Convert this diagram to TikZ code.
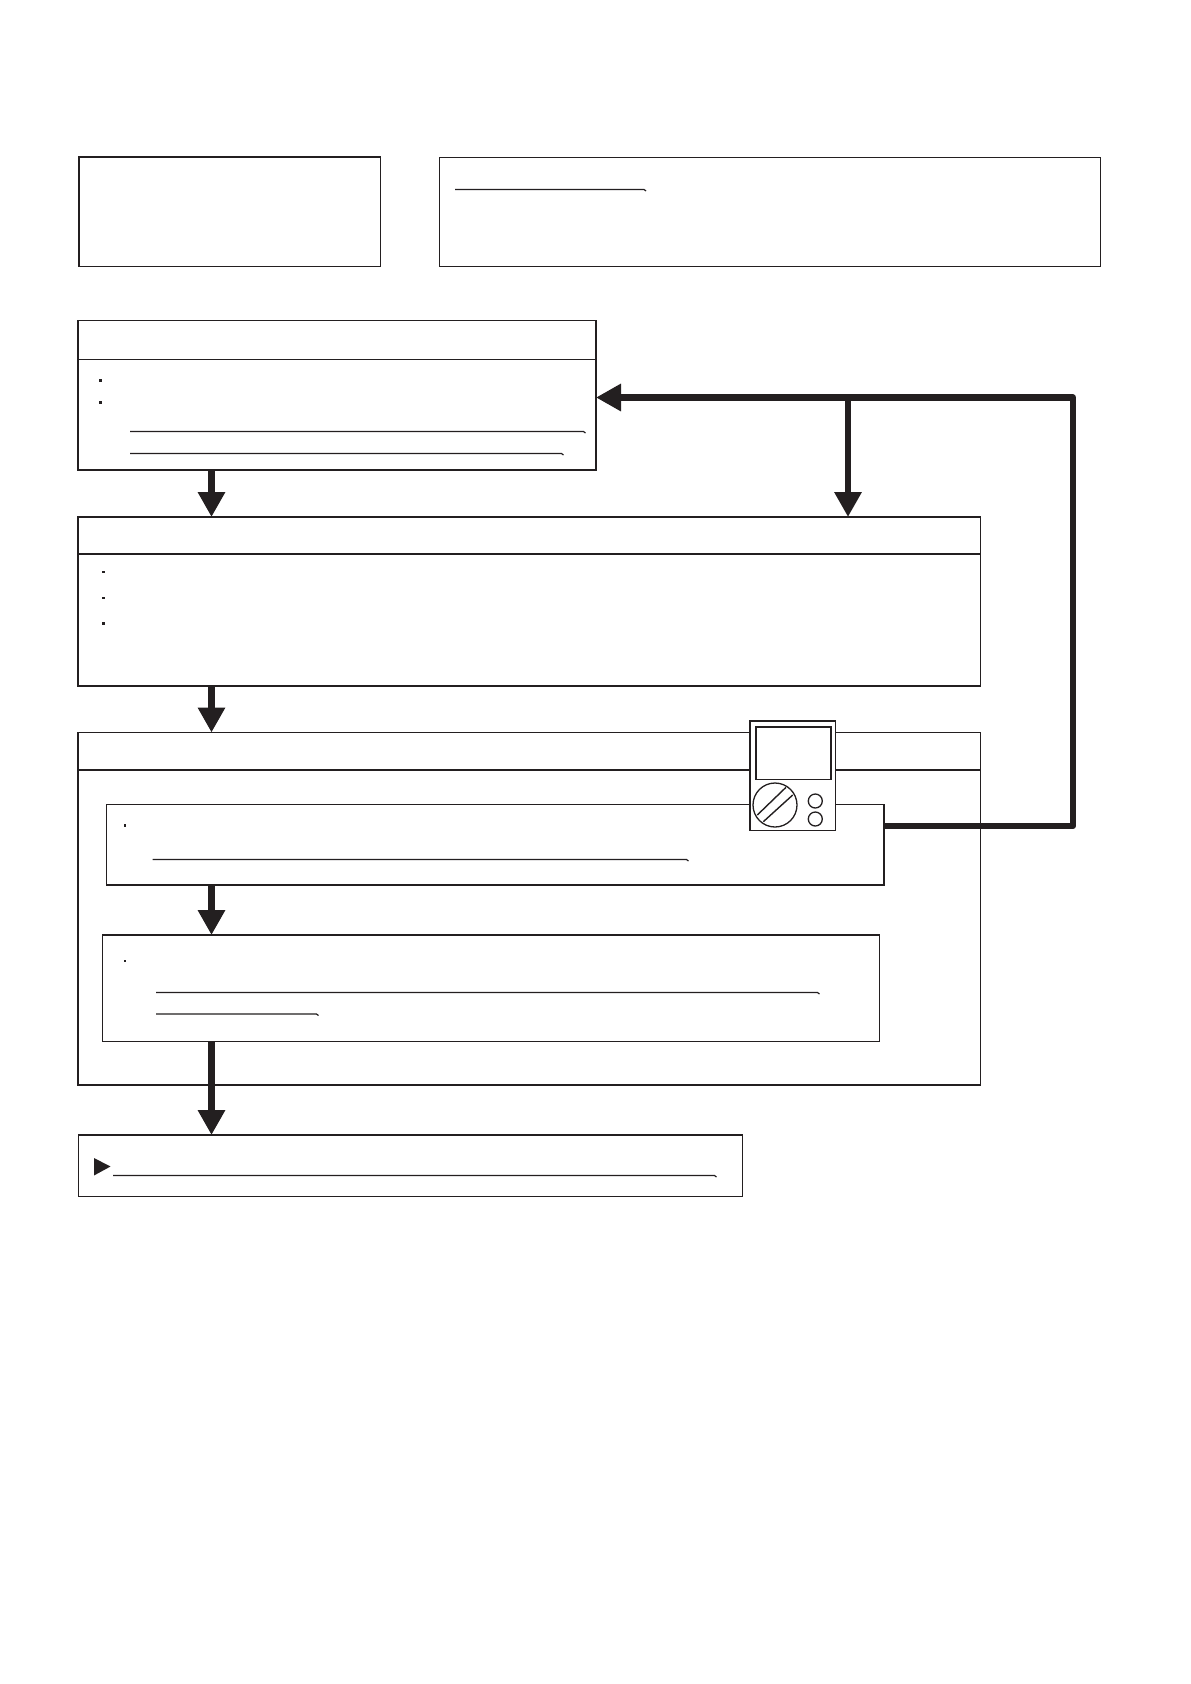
\documentclass[tikz,border=0pt]{standalone}
\usepackage{xcolor}
\usetikzlibrary{arrows.meta}
\definecolor{ink}{HTML}{231F20}
\tikzset{
  panel/.style={draw=ink, line width=1.2pt, fill=white, rectangle, inner sep=0pt, outer sep=0pt, anchor=north west},
  rule/.style={draw=ink, line width=1.1pt},
  flow/.style={draw=ink, line width=6.5pt, -{Triangle[width=26pt,length=25pt,fill=ink]}, shorten >=0pt},
  bus/.style={draw=ink, line width=6.2pt, line join=round},
  ul/.style={draw=ink, line width=1.2pt, line join=round},
  tick/.style={fill=ink, rectangle, inner sep=0pt, minimum size=2.8pt},
  gauge/.style={draw=ink, line width=1.3pt, fill=white, circle, inner sep=0pt},
}
\begin{document}
\begin{tikzpicture}[x=1pt,y=-1pt]
  \useasboundingbox (0,0) rectangle (1191,1684);
  % top boxes
  \node[panel,line width=1.5pt,minimum width=301.5pt,minimum height=109.5pt] (notes) at (78.8,157) {};
  \node[panel,line width=1pt,minimum width=661.5pt,minimum height=109.5pt] (legend) at (439,157) {};
  % steps
  \node[panel,minimum width=518pt,minimum height=149.5pt] (stepc) at (78,320.5) {};
  \node[panel,minimum width=902.5pt,minimum height=169pt] (stepd) at (78,517) {};
  \node[panel,minimum width=902.5pt,minimum height=352.5pt] (stepe) at (78,732.5) {};
  \node[panel,minimum width=777.5pt,minimum height=80.5pt] (stepf) at (106.5,804.5) {};
  \node[panel,line width=1.1pt,minimum width=777pt,minimum height=106.5pt] (stepg) at (102.8,935) {};
  \node[panel,minimum width=663.5pt,minimum height=61.5pt] (steph) at (78.8,1135) {};
  % header rules
  \draw[rule] (stepc.north west) ++(0,39) -- ++(518,0);
  \draw[rule] (stepd.north west) ++(0,37) -- ++(902.5,0);
  \draw[rule] (stepe.north west) ++(0,37.5) -- ++(902.5,0);
  % underlines
  \foreach \xa/\xb/\yy in {455/646/189.5, 130/585.5/431.5, 130/563.5/453.5, 152.5/688.5/859.5, 156/819.5/992.5, 156/318.5/1014, 113/716.5/1175.5}
    \draw[ul] (\xa,\yy) -- (\xb-2,\yy) -- (\xb,\yy+1.5);
  % bullets
  \foreach \xx/\yy in {100.5/380.5, 100.5/402.5, 103.5/572, 103.5/598, 103.5/623.5, 125/825.5, 125/961}
    \node[tick] at (\xx,\yy) {};
  \fill[ink] (94,1158) -- (110.5,1166.5) -- (94,1175.5) -- cycle;
  % main flow
  \coordinate (flowx) at (211.5,0);
  \draw[flow] (stepc.south -| flowx) -- (stepd.north -| flowx);
  \draw[flow] (stepd.south -| flowx) -- (stepe.north -| flowx);
  \draw[flow] (stepf.south -| flowx) -- (stepg.north -| flowx);
  \draw[flow] (stepg.south -| flowx) -- (steph.north -| flowx);
  % return path
  \coordinate (retlow) at (1073,826);
  \coordinate (rethigh) at (1073,397.5);
  \coordinate (retx) at (848,397.5);
  \draw[bus] (stepf.east |- retlow) -- (retlow) -- (rethigh) -- (retx);
  \draw[flow,line width=6.2pt] (rethigh) -- (stepc.east |- rethigh);
  \draw[flow,line width=6.2pt] (retx) -- (stepd.north -| retx);
  % meter
  \node[panel,line width=1.4pt,minimum width=85.5pt,minimum height=109.5pt] (meter) at (749.8,720.8) {};
  \node[panel,line width=1.7pt,minimum width=75.5pt,minimum height=52.5pt] (screen) at (755.7,726.9) {};
  \node[gauge,minimum size=44pt] (dial) at (775,805) {};
  \node[gauge,minimum size=14pt] (knoba) at (815.3,801) {};
  \node[gauge,minimum size=14pt] (knobb) at (815.3,819) {};
  \draw[rule,line width=1.4pt] (dial) ++(-17.7,10) -- ++(28.7,-27.7);
  \draw[rule,line width=1.4pt] (dial) ++(-11.7,16.7) -- ++(29.4,-26.7);
\end{tikzpicture}
\end{document}
